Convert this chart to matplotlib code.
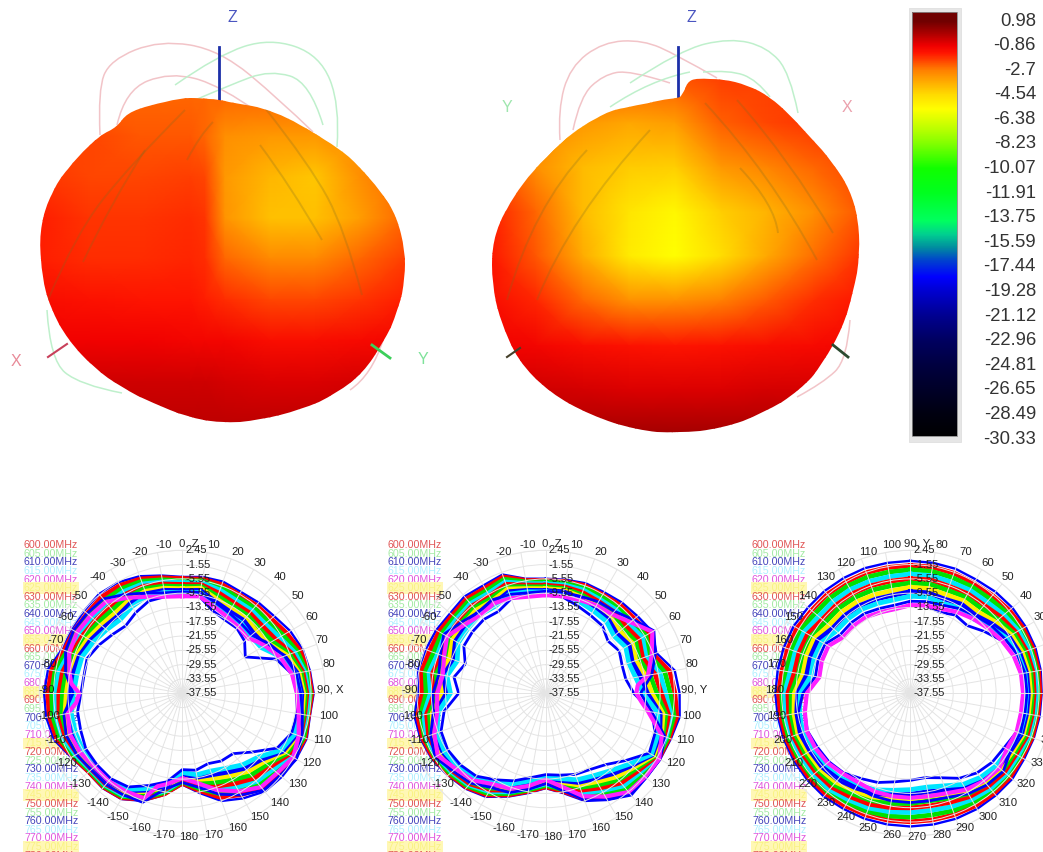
import numpy as np
import matplotlib
matplotlib.use('Agg')
import matplotlib.pyplot as plt
from matplotlib.colors import LinearSegmentedColormap, Normalize
from matplotlib.patches import PathPatch, Rectangle
from matplotlib.path import Path

plt.rcParams['font.family'] = ['Liberation Sans', 'DejaVu Sans']

# ---------- colour scale ----------
scale_levels = [0.98, -0.86, -2.7, -4.54, -6.38, -8.23, -10.07, -11.91, -13.75, -15.59,
                -17.44, -19.28, -21.12, -22.96, -24.81, -26.65, -28.49, -30.33]
scale_db = [-30.33, -28.49, -24.81, -22.96, -21.12, -19.28, -18.2, -17.0, -16.0, -15.0, -14.0,
            -11.91, -10.07, -8.23, -7.0, -5.6, -4.54, -2.7, -1.4, -0.86, 0.0, 0.98]
scale_colors = ['#000000', '#000010', '#000040', '#000060', '#000090', '#0000d0', '#0000ff', '#0040d0',
                '#008ca0', '#00d090', '#00ff60', '#00ff20', '#10ff00', '#80ff00', '#c0ff00', '#ffff00',
                '#ffdc00', '#ff8000', '#ff1500', '#f00000', '#b00000', '#700000']

# ---------- 3D pattern, left view ----------
left_x = [218,240,263,287,313,337,360,380,397,405,405,398,383,363,337,300,260,220,187,153,123,93,68,50,42,39,45,58,77,100,117,127,150,180,200]
left_y = [99,104,108,117,132,147,167,190,217,250,277,310,343,373,393,410,420,423,417,403,388,367,340,307,277,240,207,180,157,135,127,113,105,98,98]
left_cols = [40,90,140,190,205,225,270,315,360,405]
left_rows = [95,136,177,218,259,300,341,382,423]
left_db = [[-2.4,-2.4,-2.4,-2.4,-2.4,-2.4,-2.4,-2.4,-2.4,-2.4],
           [-2.0,-2.0,-2.2,-2.2,-2.4,-3.0,-3.2,-3.2,-3.0,-3.0],
           [-1.8,-2.0,-2.0,-1.9,-2.0,-3.2,-3.8,-4.1,-3.0,-2.5],
           [-1.5,-1.8,-1.8,-1.7,-1.8,-3.1,-4.0,-4.0,-3.3,-2.4],
           [-1.5,-1.7,-1.7,-1.6,-1.7,-2.4,-2.9,-2.9,-2.4,-1.9],
           [-1.2,-1.3,-1.4,-1.4,-1.5,-1.7,-2.0,-2.0,-1.8,-1.5],
           [-0.9,-0.9,-0.9,-1.0,-1.0,-1.0,-1.2,-1.2,-1.1,-1.0],
           [-0.5,-0.4,-0.4,-0.4,-0.4,-0.5,-0.6,-0.6,-0.5,-0.5],
           [-0.2,-0.2,-0.2,-0.2,-0.2,-0.2,-0.2,-0.2,-0.2,-0.2]]
left_ridges = [([260,290,322],[145,185,240]),([265,310,345,362],[108,165,230,295]),
               ([185,130,75,48],[110,165,235,300]),([145,110,83],[150,205,262]),
               ([213,200,187],[122,135,160])]
left_pink = [([100,98,110,160,220,280,313],[135,90,60,40,50,100,132]),([117,125,170,220,262],[125,90,72,85,115]),
             ([383,372,350],[340,375,390])]
left_green = [([175,218,270,320,340,337],[85,55,38,55,105,147]),([195,230,270,310,323],[100,85,70,82,125]),
              ([47,50,80,122],[310,360,385,393])]

# ---------- 3D pattern, right view ----------
right_x = [678,682,687,697,723,747,770,790,810,833,850,858,860,853,843,823,800,763,723,677,637,590,550,517,500,492,492,500,513,533,560,583,610,637,660]
right_y = [98,95,82,78,79,85,97,115,137,163,190,217,253,293,327,363,390,413,428,433,430,415,393,360,320,283,247,220,197,170,143,125,110,105,100]
right_cols = [490,536,583,629,675,721,768,814,860]
right_rows = [78,123,167,212,256,301,346,390,435]
right_db = [[-2.2,-2.2,-2.2,-2.2,-2.2,-1.9,-1.9,-1.9,-1.9],
            [-2.8,-3.0,-3.2,-3.5,-3.3,-2.3,-2.0,-1.8,-1.8],
            [-2.0,-3.0,-3.9,-4.2,-4.3,-3.2,-2.8,-2.4,-2.0],
            [-1.5,-2.4,-3.9,-4.8,-5.4,-4.3,-3.7,-3.0,-2.2],
            [-1.4,-2.2,-3.6,-5.0,-5.6,-4.6,-3.5,-2.5,-1.8],
            [-1.2,-1.6,-2.4,-3.0,-3.0,-2.7,-2.2,-1.7,-1.4],
            [-0.9,-1.0,-1.2,-1.3,-1.4,-1.3,-1.2,-1.1,-1.0],
            [-0.5,-0.4,-0.5,-0.6,-0.6,-0.6,-0.5,-0.5,-0.6],
            [0.0,0.0,0.1,0.2,0.2,0.2,0.1,0.0,0.0]]
right_ridges = [([740,775,778],[168,205,233]),([705,770,817],[103,173,260]),([737,790,833],[100,160,233]),
                ([650,570,537],[130,217,300]),([507,533,587],[300,207,150])]
right_pink = [([560,558,570,603,643,677,717],[140,110,67,42,40,55,78]),([573,580,603,630,670],[130,97,75,70,83]),
              ([850,847,823,797],[320,360,383,397])]
right_green = [([630,680,730,767,790,798],[83,50,38,47,73,113]),([610,650,690],[107,80,72]),
               ([703,730,757,770],[72,70,80,97])]

# ---------- polar cuts ----------
angles = list(range(0, 360, 10))
angles_c1_740 = [0,10,20,30,40,50,55,60,70,80,90,100,110,120,130,140,150,160,170,180,190,195,200,210,220,230,240,250,260,265,270,275,280,290,300,310,320,330,340,350]
angles_c2_740 = [0,10,20,30,40,50,60,70,80,85,90,95,100,110,120,130,140,150,160,170,180,190,200,210,220,230,240,250,260,270,280,290,300,310,320,330,340,350]

c1_610 = [-5.0,-4.5,-4.3,-4.8,-4.4,-4.0,-2.7,-1.7,-1.3,-0.8,-1.3,-0.5,-0.8,-1.2,-1.7,-3.6,-5.5,-9.2,-12.0,-8.7,-5.5,-3.4,-2.9,-3.1,-1.7,0.6,1.1,1.1,0.6,-1.7,-1.7,-1.7,-1.3,-1.7,-2.7,-4.1]
c1_630 = [-5.5,-5.1,-5.2,-5.7,-5.4,-5.1,-3.9,-2.5,-1.8,-1.3,-1.7,-1.0,-1.4,-2.3,-2.9,-4.8,-6.6,-9.9,-12.4,-9.0,-6.0,-3.8,-3.3,-3.4,-2.2,-0.2,0.2,0.1,-0.4,-2.4,-2.6,-2.8,-2.4,-2.7,-3.5,-4.7]
c1_635 = [-6.1,-5.6,-6.0,-6.6,-6.3,-6.2,-5.0,-3.3,-2.3,-1.7,-2.0,-1.4,-2.0,-3.4,-4.1,-6.0,-7.7,-10.5,-12.8,-9.4,-6.4,-4.2,-3.6,-3.8,-2.6,-1.0,-0.7,-1.0,-1.4,-3.2,-3.5,-3.8,-3.6,-3.7,-4.2,-5.3]
c1_645 = [-6.6,-6.2,-6.8,-7.5,-7.3,-7.3,-6.2,-4.1,-2.8,-2.2,-2.4,-1.9,-2.6,-4.4,-5.3,-7.2,-8.8,-11.2,-13.2,-9.8,-6.9,-4.6,-4.0,-4.1,-3.1,-1.8,-1.6,-2.0,-2.5,-4.0,-4.4,-4.8,-4.8,-4.7,-5.0,-5.9]
c1_660 = [-7.1,-6.7,-7.7,-8.4,-8.2,-8.3,-7.4,-4.9,-3.3,-2.7,-2.8,-2.3,-3.2,-5.5,-6.5,-8.4,-9.9,-11.8,-13.7,-10.2,-7.3,-5.0,-4.3,-4.4,-3.6,-2.6,-2.5,-3.0,-3.5,-4.7,-5.3,-5.8,-5.9,-5.6,-5.7,-6.5]
c1_665 = [-7.7,-7.2,-8.6,-9.3,-9.1,-9.4,-8.5,-5.6,-3.8,-3.1,-3.1,-2.7,-3.8,-6.6,-7.7,-9.6,-11.0,-12.4,-14.1,-10.5,-7.8,-5.3,-4.6,-4.7,-4.0,-3.3,-3.3,-4.0,-4.5,-5.4,-6.1,-6.8,-7.1,-6.6,-6.4,-7.1]
c1_685 = [-8.3,-7.7,-9.5,-10.2,-10.0,-10.5,-9.7,-6.4,-4.4,-3.6,-3.5,-3.2,-4.5,-7.7,-9.0,-10.9,-12.2,-13.1,-14.5,-10.9,-8.3,-5.7,-5.0,-5.1,-4.5,-4.1,-4.2,-5.1,-5.5,-6.2,-7.0,-7.9,-8.3,-7.6,-7.2,-7.7]
c1_700 = [-8.8,-8.3,-10.3,-11.1,-10.9,-11.5,-10.8,-7.2,-4.9,-4.1,-3.9,-3.6,-5.1,-8.7,-10.2,-12.1,-13.3,-13.7,-15.0,-11.3,-8.7,-6.1,-5.3,-5.4,-5.0,-4.9,-5.1,-6.1,-6.5,-6.9,-7.9,-8.9,-9.4,-8.5,-7.9,-8.3]
c1_705 = [-9.4,-8.9,-11.2,-12.0,-11.9,-12.6,-12.0,-8.0,-5.4,-4.6,-4.3,-4.1,-5.7,-9.8,-11.4,-13.3,-14.4,-14.4,-15.4,-11.7,-9.2,-6.5,-5.7,-5.7,-5.5,-5.7,-6.0,-7.1,-7.6,-7.7,-8.8,-9.9,-10.6,-9.5,-8.6,-8.9]
c1_670 = [-10.4,-10.0,-12.9,-13.8,-13.8,-14.8,-17.2,-9.6,-6.4,-5.5,-5.0,-5.0,-6.9,-12.0,-15.5,-15.7,-16.6,-15.7,-16.2,-12.4,-10.1,-7.3,-6.4,-6.4,-6.4,-7.3,-7.8,-9.2,-9.6,-9.2,-10.6,-12.0,-12.9,-11.5,-10.1,-10.1]
c1_730 = [-9.2,-8.9,-10.5,-11.5,-12.0,-12.2,-9.6,-7.1,-5.2,-4.4,-3.4,-1.9,-0.7,-1.8,-2.2,-4.7,-7.5,-10.8,-12.6,-10.4,-5.1,-4.7,-4.3,-4.3,-3.4,-3.0,-3.9,-7.0,-4.4,-2.8,-2.4,-2.8,-3.1,-5.6,-7.7,-9.0]
c1_740 = [-10.4,-10.0,-11.7,-12.7,-13.2,-13.6,-12.2,-10.9,-8.3,-6.4,-5.5,-4.5,-2.9,-1.7,-2.9,-3.3,-5.9,-8.7,-12.0,-13.8,-11.7,-10.6,-6.3,-5.9,-5.5,-5.5,-4.5,-4.1,-5.0,-7.8,-8.7,-6.4,-5.5,-3.9,-3.5,-3.9,-4.2,-6.7,-8.8,-10.1]

c2_610 = [-5.5,-5.3,-4.8,-4.9,-4.4,-4.0,-3.1,-4.6,-0.9,-0.1,0.5,-0.3,-0.6,-0.8,-0.3,-3.1,-5.5,-9.2,-11.0,-9.2,-6.8,-4.1,-2.7,-1.8,-0.8,-0.3,-0.3,-1.8,-1.3,-1.8,-2.2,-2.7,-2.2,-2.7,-2.2,-5.0]
c2_630 = [-6.0,-5.8,-5.5,-5.7,-5.3,-5.1,-4.2,-5.6,-2.3,-1.4,-0.3,-0.8,-1.0,-1.6,-1.4,-4.1,-6.3,-9.7,-11.4,-9.7,-7.3,-4.7,-3.2,-2.3,-1.3,-0.9,-1.2,-3.0,-2.3,-3.0,-3.1,-3.5,-3.1,-3.6,-2.9,-5.5]
c2_635 = [-6.4,-6.3,-6.1,-6.4,-6.1,-6.2,-5.2,-6.6,-3.7,-2.7,-1.1,-1.2,-1.3,-2.3,-2.5,-5.1,-7.1,-10.2,-11.8,-10.1,-7.7,-5.2,-3.6,-2.7,-1.8,-1.5,-2.0,-4.1,-3.3,-4.2,-4.0,-4.3,-3.9,-4.4,-3.6,-5.9]
c2_645 = [-6.9,-6.8,-6.8,-7.2,-7.0,-7.3,-6.3,-7.7,-5.1,-4.0,-1.9,-1.7,-1.7,-3.1,-3.7,-6.1,-7.9,-10.7,-12.2,-10.6,-8.2,-5.8,-4.1,-3.2,-2.3,-2.1,-2.9,-5.3,-4.4,-5.4,-4.9,-5.1,-4.8,-5.3,-4.4,-6.4]
c2_660 = [-7.3,-7.3,-7.5,-7.9,-7.8,-8.3,-7.4,-8.7,-6.5,-5.2,-2.6,-2.2,-2.0,-3.8,-4.8,-7.0,-8.7,-11.2,-12.5,-11.0,-8.7,-6.3,-4.5,-3.6,-2.8,-2.7,-3.7,-6.4,-5.4,-6.5,-5.8,-5.9,-5.6,-6.1,-5.1,-6.8]
c2_665 = [-7.8,-7.8,-8.2,-8.7,-8.7,-9.4,-8.5,-9.7,-7.9,-6.5,-3.4,-2.7,-2.4,-4.6,-5.9,-8.0,-9.5,-11.8,-12.9,-11.4,-9.2,-6.9,-5.0,-4.1,-3.4,-3.4,-4.5,-7.5,-6.4,-7.7,-6.7,-6.8,-6.4,-6.9,-5.8,-7.3]
c2_685 = [-8.3,-8.2,-8.8,-9.4,-9.5,-10.5,-9.5,-10.7,-9.2,-7.8,-4.2,-3.1,-2.7,-5.3,-7.0,-9.0,-10.2,-12.3,-13.3,-11.8,-9.6,-7.4,-5.5,-4.6,-3.9,-4.0,-5.3,-8.6,-7.4,-8.9,-7.5,-7.6,-7.2,-7.7,-6.5,-7.8]
c2_700 = [-8.8,-8.7,-9.5,-10.2,-10.4,-11.6,-10.6,-11.8,-10.6,-9.1,-5.0,-3.6,-3.1,-6.1,-8.2,-10.0,-11.0,-12.8,-13.7,-12.3,-10.1,-8.0,-6.0,-5.1,-4.4,-4.6,-6.2,-9.8,-8.5,-10.1,-8.4,-8.4,-8.1,-8.6,-7.3,-8.3]
c2_705 = [-9.2,-9.2,-10.2,-10.9,-11.2,-12.6,-11.7,-12.8,-12.0,-10.3,-5.7,-4.1,-3.4,-6.8,-9.3,-10.9,-11.8,-13.3,-14.0,-12.7,-10.6,-8.5,-6.4,-5.5,-4.9,-5.2,-7.0,-10.9,-9.5,-11.2,-9.3,-9.2,-8.9,-9.4,-8.0,-8.7]
c2_670 = [-10.1,-10.2,-11.5,-12.4,-12.9,-14.8,-13.8,-14.8,-14.8,-12.9,-7.3,-5.0,-4.1,-8.3,-11.5,-12.9,-13.4,-14.3,-14.8,-13.6,-11.5,-9.6,-7.3,-6.4,-5.9,-6.4,-8.7,-13.2,-11.5,-13.6,-11.1,-10.8,-10.6,-11.1,-9.4,-9.6]
c2_730 = [-9.0,-8.9,-8.7,-8.0,-7.6,-5.5,-2.6,-4.9,-7.4,-11.0,-7.4,-2.0,-0.6,-0.9,-0.8,-3.2,-5.9,-9.9,-12.3,-10.3,-8.0,-7.1,-4.8,-3.7,-1.8,-3.3,-5.6,-6.0,-7.2,-6.2,-4.6,-6.7,-8.0,-7.4,-8.1,-9.0]
c2_740 = [-10.1,-10.0,-9.8,-9.1,-8.7,-6.6,-3.1,-6.0,-8.5,-11.7,-12.2,-10.7,-8.5,-3.0,-0.9,-1.2,-1.5,-4.2,-6.9,-11.0,-13.4,-11.3,-9.1,-8.2,-5.8,-4.7,-2.7,-4.4,-6.7,-7.2,-8.3,-7.3,-5.7,-7.8,-9.1,-8.5,-9.2,-10.1]

c3_610 = [-0.5,-0.5,-0.5,-0.8,-0.5,-0.3,-0.3,-0.3,-0.5,-0.8,-0.8,-0.8,-0.8,-0.3,-0.3,-0.2,-0.2,-0.3,-0.3,-0.3,-0.2,-0.2,0.1,0.1,0.1,0.1,0.1,0.2,0.1,0.1,0.1,-0.2,-0.2,-0.3,-0.3,-0.5]
c3_630 = [-1.8,-1.7,-1.8,-2.0,-1.8,-1.4,-1.1,-1.0,-1.1,-1.3,-1.4,-1.3,-1.5,-1.1,-1.1,-1.2,-1.4,-1.6,-1.6,-1.5,-1.3,-1.2,-0.8,-0.7,-0.7,-0.6,-0.7,-0.7,-1.1,-1.1,-1.0,-1.5,-1.4,-1.6,-1.6,-1.8]
c3_635 = [-3.0,-2.9,-3.1,-3.1,-3.0,-2.4,-1.8,-1.6,-1.6,-1.8,-1.9,-1.8,-2.1,-1.8,-1.9,-2.2,-2.6,-3.0,-2.9,-2.7,-2.4,-2.2,-1.6,-1.5,-1.4,-1.3,-1.4,-1.6,-2.3,-2.2,-2.1,-2.8,-2.7,-2.8,-2.9,-3.1]
c3_645 = [-4.2,-4.1,-4.4,-4.2,-4.2,-3.4,-2.6,-2.2,-2.1,-2.3,-2.4,-2.3,-2.7,-2.5,-2.7,-3.2,-3.8,-4.3,-4.2,-3.9,-3.4,-3.1,-2.4,-2.3,-2.2,-2.0,-2.2,-2.4,-3.4,-3.3,-3.2,-4.1,-4.0,-4.0,-4.2,-4.4]
c3_660 = [-5.5,-5.3,-5.7,-5.4,-5.4,-4.4,-3.4,-2.9,-2.7,-2.9,-2.9,-2.8,-3.4,-3.2,-3.6,-4.2,-5.1,-5.6,-5.5,-5.1,-4.5,-4.1,-3.3,-3.1,-3.0,-2.7,-3.0,-3.3,-4.6,-4.4,-4.4,-5.4,-5.3,-5.3,-5.5,-5.7]
c3_665 = [-6.7,-6.5,-6.9,-6.5,-6.6,-5.4,-4.1,-3.5,-3.3,-3.4,-3.4,-3.3,-4.0,-3.9,-4.4,-5.1,-6.3,-7.0,-6.7,-6.3,-5.6,-5.1,-4.2,-3.9,-3.7,-3.4,-3.7,-4.2,-5.8,-5.5,-5.5,-6.6,-6.5,-6.6,-6.8,-7.0]
c3_685 = [-7.9,-7.8,-8.2,-7.7,-7.9,-6.5,-4.9,-4.2,-3.9,-3.9,-4.0,-3.9,-4.6,-4.7,-5.2,-6.1,-7.5,-8.3,-8.0,-7.6,-6.7,-6.1,-5.1,-4.6,-4.5,-4.1,-4.5,-5.1,-7.0,-6.7,-6.6,-7.9,-7.8,-7.9,-8.2,-8.4]
c3_700 = [-9.1,-9.0,-9.5,-8.8,-9.1,-7.5,-5.7,-4.9,-4.5,-4.5,-4.5,-4.4,-5.2,-5.4,-6.0,-7.1,-8.7,-9.6,-9.3,-8.8,-7.7,-7.0,-6.0,-5.4,-5.2,-4.8,-5.3,-6.0,-8.1,-7.8,-7.7,-9.2,-9.1,-9.2,-9.5,-9.7]
c3_705 = [-10.4,-10.2,-10.8,-10.0,-10.3,-8.5,-6.5,-5.5,-5.0,-5.0,-5.0,-4.9,-5.9,-6.1,-6.9,-8.1,-10.0,-10.9,-10.6,-10.0,-8.8,-8.0,-6.8,-6.2,-6.0,-5.5,-6.1,-6.8,-9.3,-8.9,-8.9,-10.5,-10.4,-10.4,-10.8,-11.0]
c3_670 = [-12.9,-12.6,-13.4,-12.3,-12.8,-10.6,-8.0,-6.8,-6.1,-6.0,-6.1,-5.9,-7.2,-7.6,-8.5,-10.1,-12.4,-13.6,-13.2,-12.4,-11.0,-10.0,-8.5,-7.8,-7.5,-6.9,-7.6,-8.6,-11.7,-11.2,-11.1,-13.1,-12.9,-12.9,-13.4,-13.6]
c3_730 = [-11.8,-11.5,-11.3,-10.2,-9.2,-8.0,-7.0,-5.7,-5.0,-4.9,-5.0,-4.8,-5.2,-3.6,-4.1,-5.1,-6.6,-7.0,-7.0,-7.0,-7.0,-7.3,-6.5,-5.7,-5.3,-5.0,-5.7,-7.5,-10.6,-10.1,-10.0,-12.0,-11.8,-11.8,-12.3,-12.5]
c3_740 = [-12.9,-12.6,-12.4,-11.3,-10.3,-9.2,-8.0,-6.8,-6.1,-6.0,-6.1,-5.9,-6.4,-5.0,-5.5,-6.4,-7.8,-8.3,-8.3,-8.3,-8.3,-8.7,-8.2,-7.3,-6.9,-6.7,-7.6,-8.6,-11.7,-11.2,-11.1,-13.1,-12.9,-12.9,-13.4,-13.6]

series_freqs = [610, 630, 635, 645, 660, 665, 685, 700, 705, 670, 730, 740]
legend_freqs = list(range(600, 785, 5))
radial_levels = [2.45, -1.55, -5.55, -9.55, -13.55, -17.55, -21.55, -25.55, -29.55, -33.55, -37.55]
labels_xz = ['0, Z'] + [str(v) for v in range(10, 90, 10)] + ['90, X'] + [str(v) for v in range(100, 190, 10)] + [str(v) for v in range(-170, 0, 10)]
labels_yz = ['0, Z'] + [str(v) for v in range(10, 90, 10)] + ['90, Y'] + [str(v) for v in range(100, 190, 10)] + [str(v) for v in range(-170, 0, 10)]
labels_xy = ['90, Y', '80', '70', '60', '50', '40', '30', '20', '10', '0', '350', '340', '330', '320', '310', '300', '290', '280', '270', '260',
             '250', '240', '230', '220', '210', '200', '190', '180', '170', '160', '150', '140', '130', '120', '110', '100']

cycle_line = ['#ff0000', '#00e000', '#0000ff', '#00e5ff', '#ff00ff', '#ffee00']
cycle_text = ['#e05555', '#66dd66', '#4444bb', '#77e5ff', '#e055dd', '#f5f060']

W, H = 1043, 852
fig = plt.figure(figsize=(W / 100, H / 100), dpi=100, facecolor='white')
ax = fig.add_axes([0, 0, 1, 1], zorder=0)
ax.set_xlim(0, W)
ax.set_ylim(H, 0)
ax.axis('off')

cmap = LinearSegmentedColormap.from_list(
    'scale', [((d - scale_db[0]) / (scale_db[-1] - scale_db[0]), c) for d, c in zip(scale_db, scale_colors)], N=1024)
norm = Normalize(scale_db[0], scale_db[-1])


def curve_path(x, y, closed=False):
    """Quadratic Bezier path with the listed points as control points."""
    p = np.column_stack([x, y]).astype(float)
    if closed:
        mids = (p + np.roll(p, -1, axis=0)) / 2
        verts = [mids[-1]]
        codes = [Path.MOVETO]
        for ctrl, m in zip(p, mids):
            verts += [ctrl, m]
            codes += [Path.CURVE3, Path.CURVE3]
        return Path(verts, codes)
    verts = [p[0]]
    codes = [Path.MOVETO]
    for i in range(1, len(p) - 1):
        end = p[-1] if i == len(p) - 2 else (p[i] + p[i + 1]) / 2
        verts += [p[i], end]
        codes += [Path.CURVE3, Path.CURVE3]
    if len(p) == 2:
        verts.append(p[1])
        codes.append(Path.LINETO)
    return Path(verts, codes)


def draw_pattern(x, y, cols, rows, db, ridges, pink, green):
    for cx, cy in pink:
        ax.add_patch(PathPatch(curve_path(cx, cy), facecolor='none', edgecolor='#f2c4c8', lw=1.1, zorder=1))
    for cx, cy in green:
        ax.add_patch(PathPatch(curve_path(cx, cy), facecolor='none', edgecolor='#bff0cc', lw=1.1, zorder=1))
    poly = PathPatch(curve_path(x, y, closed=True), facecolor='none', edgecolor='none', transform=ax.transData)
    ax.add_patch(poly)
    mesh = ax.pcolormesh(cols, rows, np.array(db), cmap=cmap, norm=norm, shading='gouraud', zorder=2)
    mesh.set_clip_path(poly)
    for cx, cy in ridges:
        r = PathPatch(curve_path(cx, cy), facecolor='none', edgecolor='#7d6a20', lw=1.4, alpha=0.25, zorder=3)
        ax.add_patch(r)
        r.set_clip_path(poly)


draw_pattern(left_x, left_y, left_cols, left_rows, left_db, left_ridges, left_pink, left_green)
draw_pattern(right_x, right_y, right_cols, right_rows, right_db, right_ridges, right_pink, right_green)

# axes of the 3D views
ax.plot([219, 219], [47, 100], color='#1c2fa8', lw=2, zorder=1.5)
ax.plot([678, 678], [47, 98], color='#1c2fa8', lw=2, zorder=1.5)
ax.plot([48, 67], [357, 344], color='#c8405a', lw=1.5, zorder=1.5)
ax.plot([372, 390], [345, 358], color='#3ccf5a', lw=2, zorder=3)
ax.plot([507, 520], [357, 348], color='#44402a', lw=1.5, zorder=3)
ax.plot([833, 848], [345, 357], color='#2c4a30', lw=2, zorder=3)
for tx, ty, s, col in [(232, 17, 'Z', '#4a55c0'), (16, 361, 'X', '#e88a98'), (423, 360, 'Y', '#7fe29a'),
                       (691, 17, 'Z', '#4a55c0'), (507, 108, 'Y', '#9fe6ae'), (847, 108, 'X', '#eba0ac')]:
    ax.text(tx, ty, s, color=col, fontsize=11.5, ha='center', va='center')

# colour bar
ax.add_patch(Rectangle((909, 8), 52, 434, facecolor='#e6e6e6', edgecolor='#e0e0e0', lw=0.6, zorder=1))
bar_rect = Rectangle((912, 12), 45, 424, transform=ax.transData, facecolor='none', edgecolor='#888888', lw=0.6, zorder=3)
ax.add_patch(bar_rect)
im = ax.imshow(np.array(scale_levels)[:, None], cmap=cmap, norm=norm, extent=(912, 957, 451.3, 8.7), aspect='auto',
               interpolation='bilinear', zorder=2)
im.set_clip_path(bar_rect)
ax.set_xlim(0, W)
ax.set_ylim(H, 0)
for lv, ty in zip(scale_levels, np.linspace(21, 439, len(scale_levels))):
    ax.text(1036, ty, f'{lv:g}', ha='right', va='center', fontsize=13.3, color='#333333')


def draw_cut(cx, cy, legend_x, series, theta_labels, a740):
    for i, f in enumerate(legend_freqs):
        idx = i % 6
        ax.text(legend_x, 545 + i * 8.63, f'{f:.2f}MHz', fontsize=7.7, ha='left', va='center',
                color=cycle_text[idx], alpha=0.6 if i % 2 else 1.0, clip_on=True,
                bbox=dict(facecolor='#fff7b5', edgecolor='none', pad=0.6) if idx == 5 else None, zorder=1)
    R = 143
    p = fig.add_axes([(cx - R) / W, (H - cy - R) / H, 2 * R / W, 2 * R / H], projection='polar', zorder=1)
    p.patch.set_alpha(0)
    p.set_theta_zero_location('N')
    p.set_theta_direction(-1)
    p.set_rlim(radial_levels[-1], radial_levels[0])
    p.set_thetagrids(angles, [''] * len(angles))
    p.set_yticks(radial_levels[:-1])
    p.set_yticklabels([])
    p.grid(True, color='#e4e4e4', lw=0.7)
    p.set_axisbelow(False)
    p.spines['polar'].set_color('#e8e8e8')
    th = np.deg2rad(angles + [360])
    for f, vals in zip(series_freqs[:-1], series[:-1]):
        col = cycle_line[legend_freqs.index(f) % 6]
        width = 1.7 if f == 610 else (2.0 if f in (670, 730) else 3.4)
        p.plot(th, vals + vals[:1], color=col, lw=width, solid_joinstyle='round', zorder=2)
    tm = np.deg2rad(a740 + [360])
    p.plot(tm, series[-1] + series[-1][:1], color='#ff20ff', lw=3.0, zorder=2.2)
    for lv in radial_levels:
        p.annotate(f'{lv:g}', xy=(0, lv), xytext=(2, 0), textcoords='offset points', ha='left', va='center',
                   fontsize=8, color='#222222', zorder=5, annotation_clip=False)
    # angle labels sit on an ellipse slightly right of and above the plot centre
    for a, s in zip(angles, theta_labels):
        dx = (6.5 + 142 * np.sin(np.deg2rad(a))) * 0.72
        dy = (3.3 + 147 * np.cos(np.deg2rad(a))) * 0.72
        p.annotate(s, xy=(0.5, 0.5), xycoords='axes fraction', xytext=(dx, dy), textcoords='offset points',
                   ha='center', va='center', fontsize=8.2, color='#222222', zorder=5, annotation_clip=False)


draw_cut(182.3, 693.3, 24, [c1_610, c1_630, c1_635, c1_645, c1_660, c1_665, c1_685, c1_700, c1_705, c1_670, c1_730, c1_740], labels_xz, angles_c1_740)
draw_cut(545.7, 693.3, 387.5, [c2_610, c2_630, c2_635, c2_645, c2_660, c2_665, c2_685, c2_700, c2_705, c2_670, c2_730, c2_740], labels_yz, angles_c2_740)
draw_cut(910.3, 693.3, 752, [c3_610, c3_630, c3_635, c3_645, c3_660, c3_665, c3_685, c3_700, c3_705, c3_670, c3_730, c3_740], labels_xy, angles)

fig.savefig('out.png', dpi=100, facecolor='white')
